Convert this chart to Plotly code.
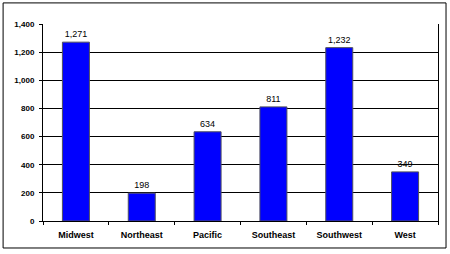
import plotly.graph_objects as go

regions = ["Midwest", "Northeast", "Pacific", "Southeast", "Southwest", "West"]
values = [1271, 198, 634, 811, 1232, 349]
value_labels = ["1,271", "198", "634", "811", "1,232", "349"]
y_ticks = [0, 200, 400, 600, 800, 1000, 1200, 1400]
y_tick_labels = ["0", "200", "400", "600", "800", "1,000", "1,200", "1,400"]

fig = go.Figure(go.Bar(
    x=regions, y=values,
    text=value_labels, textposition="outside",
    textfont=dict(family="Liberation Sans, Arial", size=9, color="black"),
    marker=dict(color="#0000FF", line=dict(color="#505060", width=1)),
    cliponaxis=False,
))

fig.update_layout(
    width=450, height=254,
    margin=dict(l=43, r=12, t=24, b=33),
    paper_bgcolor="white", plot_bgcolor="white",
    bargap=0.59, showlegend=False,
    font=dict(family="Liberation Sans, Arial", size=9, color="black"),
    shapes=[dict(type="rect", xref="paper", yref="paper",
                 x0=-0.101, x1=1.0203, y0=-0.137, y1=1.107,
                 line=dict(color="black", width=1))],
)
fig.update_xaxes(
    showline=True, linecolor="black", linewidth=1,
    ticks="outside", tickson="boundaries", ticklen=3, tickcolor="black",
    tickfont=dict(family="Liberation Sans, Arial", size=9, weight="bold"),
    ticklabelstandoff=5,
    showgrid=False,
)
fig.update_yaxes(
    range=[0, 1400], tickvals=y_ticks, ticktext=y_tick_labels,
    showline=True, mirror=True, linecolor="black", linewidth=1,
    ticks="outside", ticklen=3, tickcolor="black",
    showgrid=True, gridcolor="black", gridwidth=1,
    tickfont=dict(family="Liberation Sans, Arial", size=8, weight="bold"),
    ticklabelstandoff=3,
    zeroline=False,
)

fig.write_html("out.html")
